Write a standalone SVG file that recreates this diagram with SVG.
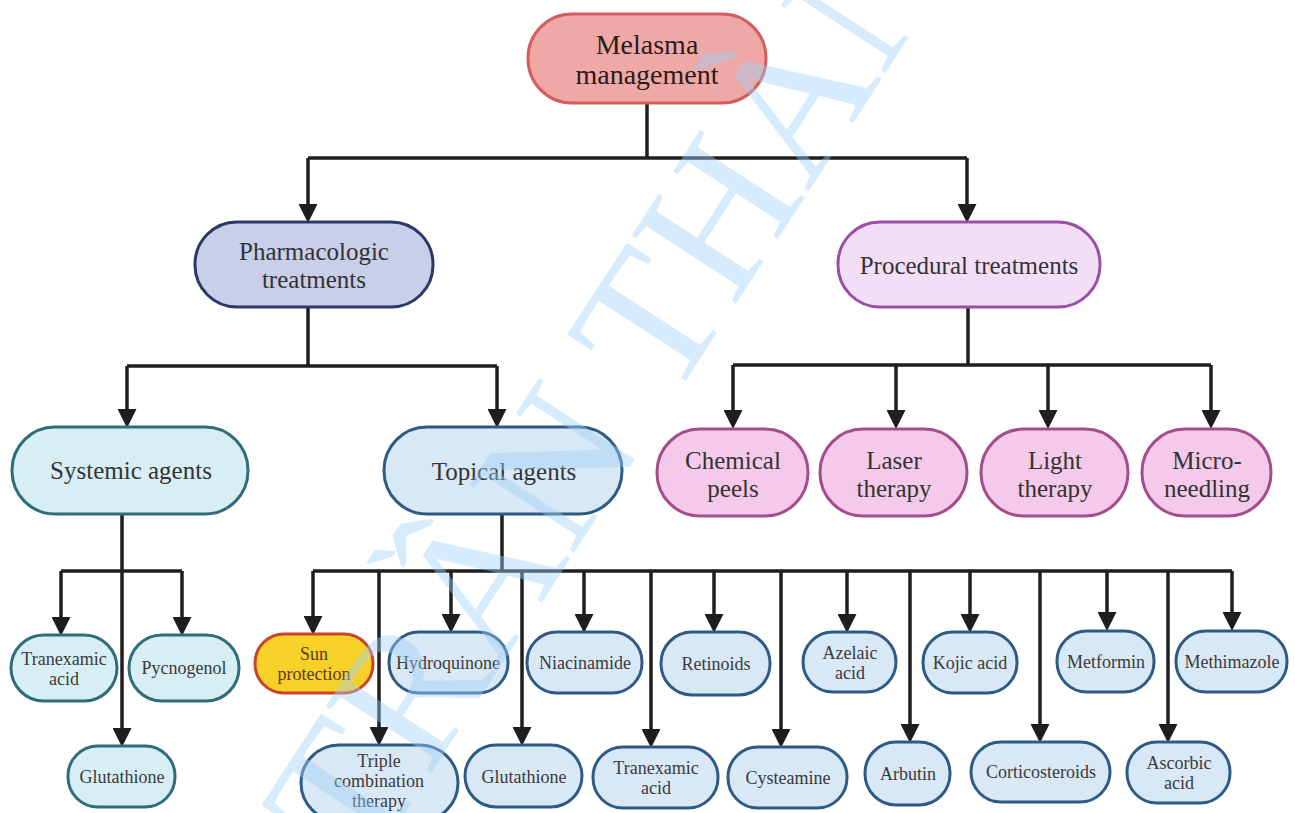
<svg xmlns="http://www.w3.org/2000/svg" width="1295" height="813" viewBox="0 0 1295 813">
<defs>
<marker id="ah" markerUnits="userSpaceOnUse" viewBox="0 0 19 19" markerWidth="19" markerHeight="19" refX="10" refY="9.5" orient="auto">
<path d="M0,0 L19,9.5 L0,19 z" fill="#1e1e1e"/>
</marker>
<style>
text{font-family:"Liberation Serif","Times New Roman",serif;text-anchor:middle;}
.c{fill:none;stroke:#1e1e1e;stroke-width:3.5;}
.a{marker-end:url(#ah);}
.root rect{fill:#f0a8a6;stroke:#d45e5e;stroke-width:3;}
.root text{font-size:28px;fill:#2a1c1c;}
.pharm rect{fill:#c9cee9;stroke:#2c3866;stroke-width:3;}
.proc rect{fill:#f2def7;stroke:#9a4ea6;stroke-width:3;}
.sys rect{fill:#d7eff4;stroke:#2f6d79;stroke-width:3;}
.top rect{fill:#d9e8f6;stroke:#2e5b86;stroke-width:3;}
.pk rect{fill:#f4c9e9;stroke:#a54d8c;stroke-width:3;}
.sun rect{fill:#f7d128;stroke:#c9442c;stroke-width:3;}
.L text{font-size:25px;fill:#333;}
.S text{font-size:18px;fill:#3a3a3a;}
.sun text{fill:#5b3b1f;}
.wm{font-family:"Liberation Serif","Times New Roman",serif;text-anchor:start;font-size:190px;fill:#9fd0f8;opacity:.42;}
</style>
</defs>
<rect width="1295" height="813" fill="#ffffff"/>
<g id="connectors">
<path class="c" d="M647,103 V158"/>
<path class="c" d="M308,158 H967"/>
<path class="c a" d="M308,158 V214"/>
<path class="c a" d="M967,158 V214"/>
<path class="c" d="M308,307 V366"/>
<path class="c" d="M127,366 H497"/>
<path class="c a" d="M127,366 V419"/>
<path class="c a" d="M497,366 V419"/>
<path class="c" d="M968,307 V365"/>
<path class="c" d="M733,365 H1211"/>
<path class="c a" d="M733,365 V420"/>
<path class="c a" d="M896,365 V420"/>
<path class="c a" d="M1048,365 V420"/>
<path class="c a" d="M1211,365 V420"/>
<path class="c" d="M122,514 V571"/>
<path class="c" d="M61,571 H182"/>
<path class="c a" d="M61,571 V627"/>
<path class="c a" d="M182,571 V627"/>
<path class="c a" d="M122,571 V738"/>
<path class="c" d="M502,514 V571"/>
<path class="c" d="M313,571 H1232"/>
<path class="c a" d="M313,571 V626"/>
<path class="c a" d="M451,571 V624"/>
<path class="c a" d="M584,571 V624"/>
<path class="c a" d="M714,571 V624"/>
<path class="c a" d="M847,571 V624"/>
<path class="c a" d="M970,571 V624"/>
<path class="c a" d="M1107,571 V622"/>
<path class="c a" d="M1232,571 V622"/>
<path class="c a" d="M379,571 V737"/>
<path class="c a" d="M522,571 V737"/>
<path class="c a" d="M651,571 V739"/>
<path class="c a" d="M781,571 V739"/>
<path class="c a" d="M910,571 V734"/>
<path class="c a" d="M1040,571 V734"/>
<path class="c a" d="M1168,571 V734"/>
</g>
<g id="root" class="root"><rect x="528" y="14" width="238" height="89" rx="44"/><text x="647" y="54">Melasma</text><text x="647" y="84">management</text></g>
<g id="pharmacologic" class="pharm L"><rect x="195" y="222" width="238" height="85" rx="42"/><text x="314" y="260">Pharmacologic</text><text x="314" y="288">treatments</text></g>
<g id="procedural" class="proc L"><rect x="838" y="222" width="262" height="85" rx="42"/><text x="969" y="274">Procedural treatments</text></g>
<g id="systemic" class="sys L"><rect x="12" y="427" width="236" height="87" rx="43"/><text x="131" y="479">Systemic agents</text></g>
<g id="topical" class="top L"><rect x="384" y="427" width="238" height="87" rx="43"/><text x="504" y="480">Topical agents</text></g>
<g id="chemical" class="pk L"><rect x="657" y="429" width="151" height="87" rx="43"/><text x="733" y="469">Chemical</text><text x="733" y="497">peels</text></g>
<g id="laser" class="pk L"><rect x="820" y="429" width="147" height="87" rx="43"/><text x="894" y="469">Laser</text><text x="894" y="497">therapy</text></g>
<g id="light" class="pk L"><rect x="981" y="429" width="147" height="87" rx="43"/><text x="1055" y="469">Light</text><text x="1055" y="497">therapy</text></g>
<g id="microneedling" class="pk L"><rect x="1142" y="429" width="129" height="87" rx="43"/><text x="1207" y="469">Micro-</text><text x="1207" y="497">needling</text></g>
<g id="sys-tranexamic" class="sys S"><rect x="11" y="635" width="106" height="66" rx="33"/><text x="64" y="665">Tranexamic</text><text x="64" y="685">acid</text></g>
<g id="pycnogenol" class="sys S"><rect x="129" y="635" width="110" height="66" rx="33"/><text x="184" y="674">Pycnogenol</text></g>
<g id="sys-glutathione" class="sys S"><rect x="68" y="746" width="107" height="61" rx="30"/><text x="122" y="783">Glutathione</text></g>
<g id="sun" class="sun S"><rect x="255" y="634" width="118" height="59" rx="29"/><text x="314" y="660">Sun</text><text x="314" y="680">protection</text></g>
<g id="hydroquinone" class="top S"><rect x="389" y="632" width="119" height="61" rx="30"/><text x="448" y="669">Hydroquinone</text></g>
<g id="niacinamide" class="top S"><rect x="527" y="632" width="115" height="61" rx="30"/><text x="585" y="669">Niacinamide</text></g>
<g id="retinoids" class="top S"><rect x="661" y="632" width="109" height="63" rx="31"/><text x="716" y="670">Retinoids</text></g>
<g id="azelaic" class="top S"><rect x="803" y="632" width="93" height="60" rx="30"/><text x="850" y="659">Azelaic</text><text x="850" y="679">acid</text></g>
<g id="kojic" class="top S"><rect x="923" y="632" width="94" height="61" rx="30"/><text x="970" y="669">Kojic acid</text></g>
<g id="metformin" class="top S"><rect x="1057" y="631" width="97" height="61" rx="30"/><text x="1106" y="668">Metformin</text></g>
<g id="methimazole" class="top S"><rect x="1176" y="631" width="111" height="61" rx="30"/><text x="1232" y="668">Methimazole</text></g>
<g id="triple" class="top S"><rect x="301" y="745" width="157" height="76" rx="38"/><text x="379" y="767">Triple</text><text x="379" y="787">combination</text><text x="379" y="807">therapy</text></g>
<g id="top-glutathione" class="top S"><rect x="465" y="745" width="117" height="62" rx="31"/><text x="524" y="783">Glutathione</text></g>
<g id="top-tranexamic" class="top S"><rect x="593" y="747" width="125" height="61" rx="30"/><text x="656" y="774">Tranexamic</text><text x="656" y="794">acid</text></g>
<g id="cysteamine" class="top S"><rect x="728" y="747" width="119" height="61" rx="30"/><text x="788" y="784">Cysteamine</text></g>
<g id="arbutin" class="top S"><rect x="865" y="742" width="85" height="63" rx="31"/><text x="908" y="780">Arbutin</text></g>
<g id="corticosteroids" class="top S"><rect x="971" y="742" width="139" height="60" rx="30"/><text x="1041" y="778">Corticosteroids</text></g>
<g id="ascorbic" class="top S"><rect x="1127" y="742" width="103" height="61" rx="30"/><text x="1179" y="769">Ascorbic</text><text x="1179" y="789">acid</text></g>
<text class="wm" transform="translate(364,876) rotate(-57)">TRẦN THÀNH</text>
</svg>
